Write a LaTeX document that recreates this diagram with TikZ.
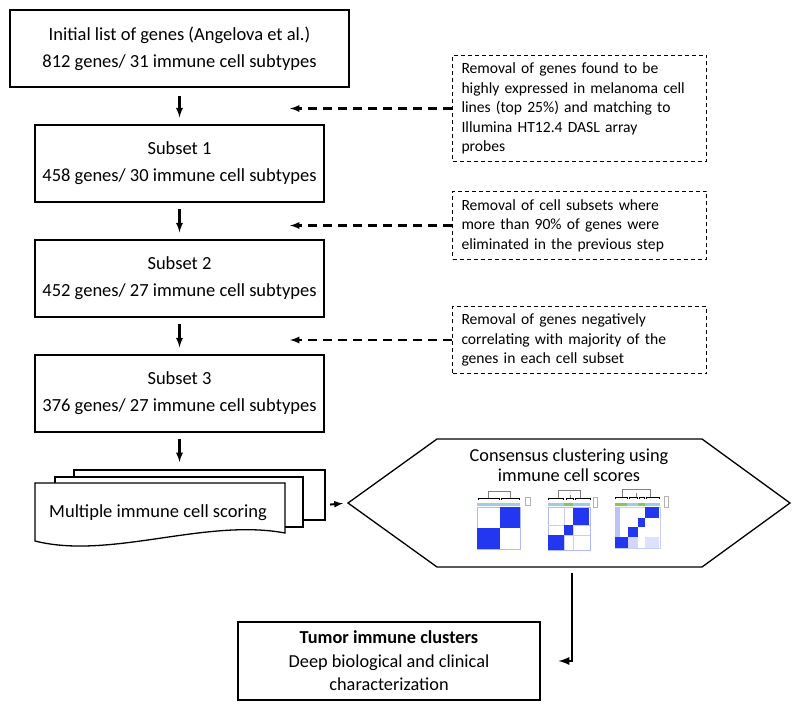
\documentclass[tikz,border=0pt]{standalone}
\usepackage{fontspec}
\setmainfont{Carlito}
\usetikzlibrary{calc}

\definecolor{hmblue}{RGB}{35,55,240}
\definecolor{hmband}{RGB}{160,205,230}
\definecolor{hmgreen}{RGB}{130,200,90}

\tikzset{
  stepbox/.style={draw,line width=1.3pt,fill=white,align=center,minimum height=77pt,inner sep=0pt,font=\fontsize{18.5}{27}\selectfont},
  notebox/.style={draw,line width=1pt,dash pattern=on 4pt off 3pt,anchor=north west,align=left,text width=236pt,inner xsep=9pt,font=\fontsize{15.6}{19.6}\selectfont},
  flow/.style={line width=2.2pt,arrows=-latex},
  noteflow/.style={line width=2.2pt,dash pattern=on 9pt off 6pt,arrows=-latex}
}

\begin{document}
\begin{tikzpicture}[x=1pt,y=-1pt]

\useasboundingbox (0,0) rectangle (800,711);

% main column
\node [stepbox,minimum width=339pt] (init) at (179.5,48.5) {Initial list of genes (Angelova et al.)\\812 genes/ 31 immune cell subtypes};
\node [stepbox,minimum width=289pt] (sub1) at (179.5,163.5) {Subset 1\\458 genes/ 30 immune cell subtypes};
\node [stepbox,minimum width=289pt] (sub2) at (179.5,278.5) {Subset 2\\452 genes/ 27 immune cell subtypes};
\node [stepbox,minimum width=289pt] (sub3) at (179.5,393.5) {Subset 3\\376 genes/ 27 immune cell subtypes};

\draw [flow,shorten <=8pt,shorten >=7pt] (init.south) -- (sub1.north);
\draw [flow,shorten <=6pt,shorten >=7pt] (sub1.south) -- (sub2.north);
\draw [flow,shorten <=6pt,shorten >=7pt] (sub2.south) -- (sub3.north);

% filtering steps
\node [notebox,minimum width=254pt,minimum height=106pt] (rm1) at (452,55) {\mbox{Removal of genes found to be}\\\mbox{highly expressed in melanoma cell}\\\mbox{lines (top 25\%) and matching to}\\\mbox{Illumina HT12.4 DASL array}\\probes};
\node [notebox,minimum width=254pt,minimum height=68pt] (rm2) at (452,191) {\mbox{Removal of cell subsets where}\\\mbox{more than 90\% of genes were}\\\mbox{eliminated in the previous step}};
\node [notebox,minimum width=254pt,minimum height=67pt] (rm3) at (452,306) {\mbox{Removal of genes negatively}\\\mbox{correlating with majority of the}\\\mbox{genes in each cell subset}};

\coordinate (tipx) at (290,0);
\draw [noteflow] (rm1.west) -- (rm1.west -| tipx);
\draw [noteflow] (rm2.west) -- (rm2.west -| tipx);
\draw [noteflow] (rm3.west) -- (rm3.west -| tipx);

% stack of score sheets
\draw [fill=white,line width=1.3pt] (74,470) rectangle (325,520);
\draw [fill=white,line width=1.3pt] (55,477) rectangle (303,527);
\draw [fill=white,line width=1.3pt] (35,541) -- (35,483) -- (285,483) -- (285,533) .. controls (205,518) and (110,560) .. (35,541) -- cycle;
\node [font=\fontsize{18.5}{20}\selectfont] (scoring) at (158,513) {Multiple immune cell scoring};
\coordinate (stacktop) at (179.5,470);
\coordinate (stackr) at (325,505);

\draw [flow,shorten <=6pt,shorten >=8pt] (sub3.south) -- (stacktop);

% consensus clustering
\draw [line width=1.3pt,fill=white] (348,503) -- (437,439) -- (702,439) -- (790,503) -- (702,567) -- (437,567) -- cycle;
\coordinate (hexw) at (348,503);
\coordinate (hexs) at (572,567);
\node [align=center,font=\fontsize{18.3}{20}\selectfont] (cons) at (569,465) {Consensus clustering using\\immune cell scores};

\draw [flow,line width=2pt,shorten <=5pt,shorten >=5pt] (stackr) -- (hexw);

% heatmap k=2
\draw [gray,line width=0.4pt] (488,499) -- (488,491) -- (510,491) -- (510,499);
\draw [black,line width=0.6pt] (478,500) -- (478,498) -- (499,498) -- (499,500) (501,500) -- (501,498) -- (519,498) -- (519,500);
\fill [hmband] (477,503) rectangle (520,506);
\draw [hmblue!35,line width=0.5pt] (477,507) rectangle (520,549);
\fill [hmblue] (500,507) rectangle (520,528);
\fill [hmblue] (477,528) rectangle (500,549);
\draw [gray!60,line width=0.4pt] (525,497) rectangle (530,505);

% heatmap k=3
\draw [gray,line width=0.4pt] (558,499) -- (558,490) -- (580,490) -- (580,499) (570,495) -- (570,499);
\draw [black,line width=0.6pt] (548,500) -- (548,498) -- (563,498) -- (563,500) (566,500) -- (566,498) -- (573,498) -- (573,500) (575,500) -- (575,498) -- (590,498) -- (590,500);
\fill [hmband] (548,503) rectangle (590,506);
\fill [hmgreen] (564,503) rectangle (573,506);
\draw [hmblue!35,line width=0.5pt] (548,507) rectangle (590,550);
\draw [hmblue!25,line width=0.4pt] (564,507) -- (564,550) (548,535) -- (590,535) (573,507) -- (573,550) (548,525) -- (590,525);
\fill [hmblue] (573,508) rectangle (589,525);
\fill [hmblue] (564,525) rectangle (573,535);
\fill [hmblue] (548,535) rectangle (564,550);
\draw [gray!60,line width=0.4pt] (593,497) rectangle (597,507);

% heatmap k=4
\draw [gray,line width=0.4pt] (622,497) -- (622,489) -- (650,489) -- (650,497) (636,493) -- (636,497);
\draw [black,line width=0.6pt] (615,499) -- (615,497) -- (627,497) -- (627,499) (629,499) -- (629,497) -- (637,497) -- (637,499) (639,499) -- (639,497) -- (644,497) -- (644,499) (646,499) -- (646,497) -- (659,497) -- (659,499);
\fill [hmband] (615,503) rectangle (660,506);
\fill [hmgreen] (615,503) rectangle (627,506);
\fill [hmgreen] (638,503) rectangle (645,506);
\draw [hmblue!25,line width=0.5pt] (615,507) rectangle (660,548);
\fill [hmblue!30] (615,507) rectangle (620,548);
\fill [hmblue!20] (615,537) rectangle (638,548);
\fill [hmblue!15] (645,537) rectangle (659,548);
\fill [hmblue] (645,507) rectangle (659,518);
\fill [hmblue] (638,518) rectangle (645,527);
\fill [hmblue] (628,527) rectangle (638,537);
\fill [hmblue] (615,537) rectangle (628,548);
\draw [gray!60,line width=0.4pt] (664,496) rectangle (668,507);

% result
\node [stepbox,minimum width=302pt,minimum height=78pt,font=\fontsize{18.3}{23.5}\selectfont] (clusters) at (389,661) {\textbf{Tumor immune clusters}\\Deep biological and clinical\\characterization};

\draw [flow,line width=2.6pt,shorten <=6pt,shorten >=18pt] (hexs) |- (clusters.east);

\end{tikzpicture}
\end{document}
